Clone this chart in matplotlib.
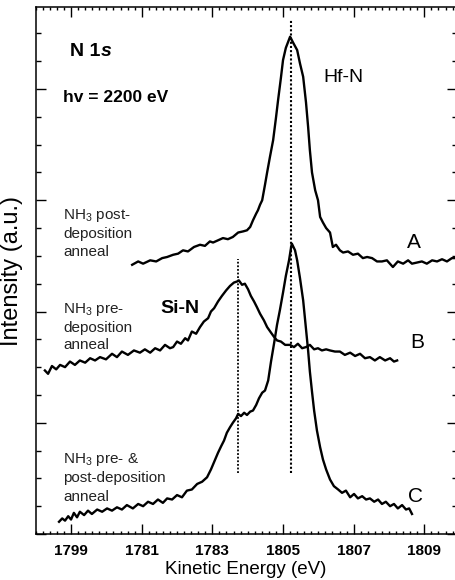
import matplotlib
matplotlib.use("Agg")
import matplotlib.pyplot as plt
from matplotlib.ticker import MultipleLocator

plt.rcParams['font.family'] = ['Liberation Sans', 'DejaVu Sans']
plt.rcParams['mathtext.fontset'] = 'custom'
plt.rcParams['mathtext.rm'] = 'Liberation Sans'
plt.rcParams['mathtext.it'] = 'Liberation Sans:italic'
plt.rcParams['mathtext.bf'] = 'Liberation Sans:bold'

# --- data (kinetic energy in eV, intensity in a.u.) ---
# A : NH3 post-deposition anneal
energy_a = [1800.73, 1800.90, 1801.04, 1801.24, 1801.41, 1801.58, 1801.72, 1801.89, 1802.03, 1802.17,
            1802.31, 1802.48, 1802.65, 1802.79, 1802.93, 1803.02, 1803.16, 1803.30, 1803.44, 1803.58,
            1803.73, 1803.87, 1803.98, 1804.07, 1804.15, 1804.24, 1804.29, 1804.35, 1804.41, 1804.49,
            1804.55, 1804.63, 1804.72, 1804.80, 1804.86, 1804.94, 1805.00, 1805.08, 1805.20, 1805.28,
            1805.40, 1805.48, 1805.57, 1805.65, 1805.71, 1805.76, 1805.82, 1805.91, 1805.99, 1806.05,
            1806.13, 1806.22, 1806.33, 1806.41, 1806.50, 1806.61, 1806.70, 1806.84, 1806.98, 1807.12,
            1807.26, 1807.38, 1807.52, 1807.66, 1807.80, 1807.94, 1808.11, 1808.25, 1808.40, 1808.54,
            1808.65, 1808.79, 1808.93, 1809.07, 1809.22, 1809.36, 1809.50, 1809.64, 1809.78, 1809.87]
inten_a = [2.42, 2.45, 2.43, 2.46, 2.45, 2.48, 2.49, 2.51, 2.52, 2.55,
           2.54, 2.58, 2.60, 2.59, 2.63, 2.62, 2.64, 2.66, 2.65, 2.67,
           2.71, 2.72, 2.73, 2.76, 2.82, 2.88, 2.91, 2.96, 3.00, 3.14,
           3.25, 3.39, 3.54, 3.74, 3.90, 4.10, 4.26, 4.37, 4.47, 4.42,
           4.35, 4.23, 4.11, 3.88, 3.66, 3.45, 3.25, 3.09, 3.00, 2.85,
           2.80, 2.75, 2.71, 2.58, 2.60, 2.55, 2.53, 2.54, 2.51, 2.52,
           2.48, 2.49, 2.48, 2.45, 2.45, 2.46, 2.40, 2.45, 2.43, 2.46,
           2.43, 2.44, 2.45, 2.43, 2.46, 2.45, 2.47, 2.45, 2.48, 2.48]

# B : NH3 pre-deposition anneal
energy_b = [1798.26, 1798.35, 1798.46, 1798.58, 1798.69, 1798.83, 1798.97, 1799.11, 1799.25, 1799.40,
            1799.54, 1799.68, 1799.82, 1799.99, 1800.16, 1800.30, 1800.44, 1800.61, 1800.78, 1800.95,
            1801.09, 1801.24, 1801.38, 1801.52, 1801.66, 1801.80, 1801.89, 1802.00, 1802.11, 1802.23,
            1802.31, 1802.42, 1802.54, 1802.65, 1802.76, 1802.88, 1802.96, 1803.05, 1803.16, 1803.27,
            1803.39, 1803.50, 1803.61, 1803.70, 1803.75, 1803.84, 1803.92, 1804.01, 1804.09, 1804.18,
            1804.26, 1804.35, 1804.46, 1804.55, 1804.66, 1804.75, 1804.83, 1804.94, 1805.06, 1805.20,
            1805.31, 1805.42, 1805.54, 1805.65, 1805.76, 1805.88, 1805.99, 1806.10, 1806.22, 1806.33,
            1806.47, 1806.61, 1806.75, 1806.90, 1807.04, 1807.18, 1807.32, 1807.46, 1807.60, 1807.74,
            1807.89, 1808.03, 1808.14, 1808.23]
inten_b = [1.47, 1.44, 1.51, 1.48, 1.52, 1.50, 1.55, 1.52, 1.56, 1.54,
           1.58, 1.56, 1.59, 1.57, 1.62, 1.59, 1.64, 1.61, 1.65, 1.63,
           1.66, 1.63, 1.67, 1.65, 1.70, 1.67, 1.68, 1.73, 1.71, 1.76,
           1.74, 1.82, 1.80, 1.86, 1.91, 1.94, 2.00, 2.03, 2.09, 2.14,
           2.19, 2.23, 2.26, 2.27, 2.28, 2.24, 2.25, 2.20, 2.14, 2.09,
           2.04, 1.98, 1.92, 1.86, 1.81, 1.77, 1.74, 1.73, 1.70, 1.70,
           1.68, 1.71, 1.67, 1.68, 1.70, 1.66, 1.67, 1.65, 1.66, 1.65,
           1.64, 1.64, 1.61, 1.63, 1.60, 1.62, 1.58, 1.59, 1.56, 1.59,
           1.56, 1.58, 1.55, 1.56]

# C : NH3 pre- & post-deposition anneal
energy_c = [1798.66, 1798.75, 1798.83, 1798.92, 1799.00, 1799.08, 1799.17, 1799.25, 1799.37, 1799.48,
            1799.59, 1799.74, 1799.88, 1800.02, 1800.16, 1800.30, 1800.44, 1800.58, 1800.75, 1800.90,
            1801.04, 1801.18, 1801.32, 1801.46, 1801.60, 1801.72, 1801.86, 1802.00, 1802.14, 1802.28,
            1802.42, 1802.57, 1802.71, 1802.85, 1802.96, 1803.08, 1803.16, 1803.25, 1803.33, 1803.41,
            1803.50, 1803.58, 1803.67, 1803.73, 1803.81, 1803.90, 1803.98, 1804.07, 1804.15, 1804.24,
            1804.32, 1804.41, 1804.49, 1804.58, 1804.66, 1804.75, 1804.83, 1804.91, 1805.00, 1805.08,
            1805.17, 1805.23, 1805.25, 1805.28, 1805.34, 1805.40, 1805.48, 1805.57, 1805.62, 1805.71,
            1805.76, 1805.82, 1805.88, 1805.96, 1806.05, 1806.13, 1806.22, 1806.33, 1806.44, 1806.56,
            1806.67, 1806.78, 1806.90, 1807.01, 1807.12, 1807.24, 1807.35, 1807.46, 1807.58, 1807.69,
            1807.80, 1807.91, 1808.03, 1808.14, 1808.25, 1808.37, 1808.48, 1808.57, 1808.65]
inten_c = [0.11, 0.14, 0.12, 0.16, 0.13, 0.19, 0.15, 0.20, 0.17, 0.21,
           0.18, 0.22, 0.20, 0.23, 0.21, 0.24, 0.22, 0.26, 0.23, 0.27,
           0.25, 0.29, 0.27, 0.31, 0.28, 0.32, 0.31, 0.35, 0.33, 0.39,
           0.40, 0.45, 0.47, 0.51, 0.58, 0.67, 0.73, 0.79, 0.84, 0.91,
           0.96, 1.00, 1.04, 1.08, 1.06, 1.09, 1.07, 1.10, 1.11, 1.16,
           1.22, 1.27, 1.29, 1.38, 1.55, 1.72, 1.88, 2.01, 2.17, 2.32,
           2.46, 2.58, 2.61, 2.59, 2.55, 2.46, 2.30, 2.10, 1.94, 1.65,
           1.46, 1.28, 1.11, 0.93, 0.78, 0.67, 0.58, 0.49, 0.43, 0.40,
           0.37, 0.39, 0.33, 0.36, 0.32, 0.34, 0.31, 0.32, 0.29, 0.31,
           0.27, 0.29, 0.25, 0.27, 0.23, 0.26, 0.22, 0.23, 0.18]

# peak markers
hfn_peak = 1805.23
sin_peak = 1803.73
hfn_span = (0.55, 4.62)
sin_span = (0.55, 2.47)

xtick_pos = [1799, 1801, 1803, 1805, 1807, 1809]
xtick_labels = ['1799', '1781', '1783', '1805', '1807', '1809']

fig = plt.figure(figsize=(4.56, 5.80), dpi=100)
ax = fig.add_axes([0.0783, 0.0793, 0.9228, 0.9086])

for e, i in [(energy_a, inten_a), (energy_b, inten_b), (energy_c, inten_c)]:
    ax.plot(e, i, color='black', lw=1.7)

ax.plot([hfn_peak, hfn_peak], hfn_span, color='black', lw=1.5, ls=(0, (1, 1)))
ax.plot([sin_peak, sin_peak], sin_span, color='black', lw=1.3, ls=(0, (1, 1)))

ax.set_xlim(1798.0, 1809.91)
ax.set_ylim(0, 4.737)

ax.set_xticks(xtick_pos)
ax.set_xticklabels(xtick_labels, fontweight='bold', fontsize=11)
ax.xaxis.set_minor_locator(MultipleLocator(0.2))
ax.yaxis.set_major_locator(MultipleLocator(1))
ax.yaxis.set_minor_locator(MultipleLocator(0.25))
ax.set_yticklabels([])
ax.tick_params(which='both', direction='in', top=True, right=True, width=1)
ax.tick_params(which='major', length=7, pad=7)
ax.tick_params(axis='x', which='minor', length=2)
ax.tick_params(axis='y', which='minor', length=3.5)
for s in ax.spines.values():
    s.set_linewidth(1.1)

ax.set_xlabel('Kinetic Energy (eV)', fontsize=13.5, labelpad=2)
ax.set_ylabel('Intensity (a.u.)', fontsize=17, labelpad=2)

# annotations
t1 = ax.text(1798.97, 4.30, 'N 1', fontsize=14, fontweight='bold', va='baseline')
ax.annotate('s', xy=(1, 0), xycoords=t1, fontsize=14, fontweight='bold',
            fontstyle='italic', va='bottom', ha='left')
ax.text(1798.77, 3.88, 'hv = 2200 eV', fontsize=12.5, fontweight='bold', va='baseline')
ax.text(1806.13, 4.06, 'Hf-N', fontsize=14, va='baseline')
ax.text(1801.52, 1.99, 'Si-N', fontsize=14, fontweight='bold', va='baseline')

lab_col = '#222222'
for y, s in [(2.83, 'NH$_3$ post-'), (2.66, 'deposition'), (2.50, 'anneal'),
             (1.99, 'NH$_3$ pre-'), (1.82, 'deposition'), (1.66, 'anneal'),
             (0.64, 'NH$_3$ pre- &'), (0.47, 'post-deposition'), (0.30, 'anneal')]:
    ax.text(1798.77, y, s, fontsize=11, color=lab_col, va='baseline')

ax.text(1808.51, 2.57, 'A', fontsize=15, va='baseline')
ax.text(1808.59, 1.67, 'B', fontsize=15, va='baseline')
ax.text(1808.54, 0.29, 'C', fontsize=15, va='baseline')

fig.savefig('out.png', dpi=100)
